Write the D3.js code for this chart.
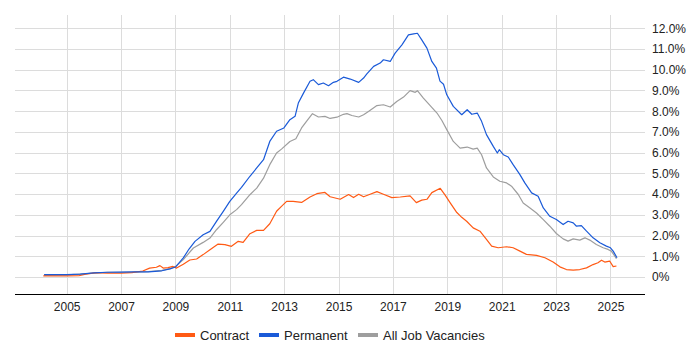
<!DOCTYPE html>
<html>
<head>
<meta charset="utf-8">
<script src="https://cdn.jsdelivr.net/npm/d3@7"></script>
<style>
body { margin: 0; background: #fff; }
text { font-family: "Liberation Sans", Arial, sans-serif; }
</style>
</head>
<body>
<div class="chart"></div>
<script>
// [year, percent] pairs
var contract = [[2004.14, 0.05], [2004.6, 0.05], [2005.0, 0.05], [2005.45, 0.06], [2005.7, 0.14],
    [2006.1, 0.21], [2006.5, 0.18], [2007.0, 0.18], [2007.4, 0.21], [2007.8, 0.29], [2008.05, 0.43],
    [2008.3, 0.47], [2008.43, 0.55], [2008.55, 0.43], [2008.73, 0.45], [2008.91, 0.51], [2009.04, 0.43],
    [2009.29, 0.62], [2009.53, 0.82], [2009.78, 0.87], [2010.02, 1.08], [2010.27, 1.32], [2010.57, 1.59],
    [2010.82, 1.56], [2011.06, 1.48], [2011.31, 1.72], [2011.49, 1.67], [2011.74, 2.09], [2011.99, 2.25],
    [2012.24, 2.25], [2012.47, 2.57], [2012.72, 3.17], [2012.9, 3.41], [2013.09, 3.65], [2013.33, 3.65],
    [2013.64, 3.6], [2013.95, 3.86], [2014.2, 4.02], [2014.5, 4.08], [2014.69, 3.87], [2015.06, 3.75],
    [2015.37, 3.98], [2015.55, 3.83], [2015.74, 3.99], [2015.92, 3.87], [2016.16, 3.99], [2016.41, 4.12],
    [2016.65, 3.99], [2016.96, 3.83], [2017.27, 3.86], [2017.63, 3.91], [2017.86, 3.59], [2018.06, 3.71],
    [2018.25, 3.75], [2018.43, 4.07], [2018.74, 4.28], [2018.92, 3.95], [2019.1, 3.59], [2019.35, 3.11],
    [2019.53, 2.88], [2019.71, 2.69], [2019.95, 2.37], [2020.2, 2.21], [2020.44, 1.81], [2020.63, 1.49],
    [2020.87, 1.41], [2021.18, 1.46], [2021.42, 1.41], [2021.67, 1.25], [2021.91, 1.09], [2022.28, 1.04],
    [2022.59, 0.93], [2022.89, 0.72], [2023.14, 0.49], [2023.38, 0.36], [2023.63, 0.33], [2023.87, 0.36],
    [2024.12, 0.44], [2024.36, 0.6], [2024.54, 0.69], [2024.67, 0.81], [2024.79, 0.72], [2024.97, 0.77],
    [2025.1, 0.5], [2025.22, 0.53]];

var permanent = [[2004.17, 0.11], [2004.6, 0.11], [2005.0, 0.11], [2005.5, 0.14], [2006.0, 0.2],
    [2006.5, 0.23], [2007.0, 0.24], [2007.5, 0.25], [2008.0, 0.25], [2008.5, 0.3], [2008.8, 0.39],
    [2009.0, 0.48], [2009.29, 0.92], [2009.5, 1.35], [2009.72, 1.72], [2010.02, 2.04], [2010.27, 2.2],
    [2010.51, 2.68], [2010.76, 3.17], [2011.0, 3.65], [2011.25, 4.05], [2011.43, 4.32], [2011.74, 4.86],
    [2011.99, 5.26], [2012.24, 5.66], [2012.47, 6.54], [2012.72, 7.03], [2012.99, 7.19], [2013.21, 7.59],
    [2013.4, 7.75], [2013.52, 8.39], [2013.71, 8.87], [2013.95, 9.44], [2014.07, 9.52], [2014.26, 9.28],
    [2014.44, 9.36], [2014.63, 9.23], [2014.81, 9.39], [2014.94, 9.44], [2015.18, 9.64], [2015.43, 9.55],
    [2015.74, 9.39], [2015.92, 9.6], [2016.04, 9.8], [2016.29, 10.16], [2016.53, 10.32], [2016.65, 10.48],
    [2016.9, 10.4], [2017.08, 10.8], [2017.33, 11.2], [2017.57, 11.68], [2017.76, 11.73], [2017.9, 11.76],
    [2018.06, 11.44], [2018.25, 11.04], [2018.43, 10.4], [2018.6, 10.08], [2018.73, 9.45], [2018.86, 9.3],
    [2018.98, 8.79], [2019.22, 8.23], [2019.53, 7.83], [2019.73, 8.07], [2019.9, 7.85], [2020.1, 7.91],
    [2020.26, 7.51], [2020.44, 6.87], [2020.69, 6.3], [2020.84, 5.98], [2020.91, 6.14], [2021.06, 5.9],
    [2021.24, 5.79], [2021.42, 5.42], [2021.67, 4.94], [2021.85, 4.54], [2022.1, 4.06], [2022.34, 3.9],
    [2022.53, 3.33], [2022.77, 2.93], [2023.01, 2.77], [2023.26, 2.53], [2023.44, 2.69], [2023.63, 2.61],
    [2023.75, 2.45], [2023.93, 2.48], [2024.12, 2.21], [2024.36, 1.89], [2024.61, 1.65], [2024.85, 1.49],
    [2025.0, 1.41], [2025.1, 1.25], [2025.24, 0.93]];

var allJobs = [[2004.17, 0.08], [2005.0, 0.1], [2005.5, 0.14], [2006.0, 0.19], [2006.5, 0.22],
    [2007.0, 0.23], [2007.5, 0.24], [2008.0, 0.26], [2008.5, 0.32], [2008.8, 0.4], [2009.0, 0.5],
    [2009.29, 0.84], [2009.66, 1.4], [2010.02, 1.67], [2010.27, 1.88], [2010.51, 2.28], [2010.76, 2.64],
    [2011.0, 3.0], [2011.25, 3.25], [2011.43, 3.49], [2011.74, 3.97], [2011.99, 4.29], [2012.24, 4.77],
    [2012.47, 5.42], [2012.72, 5.98], [2012.9, 6.17], [2013.21, 6.54], [2013.43, 6.67], [2013.64, 7.19],
    [2013.82, 7.51], [2014.04, 7.88], [2014.26, 7.72], [2014.5, 7.75], [2014.69, 7.65], [2014.94, 7.71],
    [2015.18, 7.85], [2015.31, 7.88], [2015.49, 7.79], [2015.74, 7.72], [2015.92, 7.83], [2016.1, 7.99],
    [2016.41, 8.27], [2016.65, 8.31], [2016.9, 8.2], [2017.14, 8.47], [2017.39, 8.68], [2017.63, 8.99],
    [2017.82, 8.91], [2017.9, 8.99], [2018.12, 8.63], [2018.37, 8.27], [2018.62, 7.91], [2018.8, 7.55],
    [2018.98, 7.11], [2019.22, 6.54], [2019.47, 6.22], [2019.73, 6.27], [2019.95, 6.17], [2020.1, 6.22],
    [2020.26, 5.9], [2020.44, 5.26], [2020.69, 4.83], [2020.93, 4.62], [2021.18, 4.54], [2021.36, 4.38],
    [2021.61, 3.98], [2021.79, 3.57], [2022.04, 3.33], [2022.28, 3.09], [2022.53, 2.77], [2022.77, 2.45],
    [2023.01, 2.1], [2023.26, 1.84], [2023.44, 1.73], [2023.63, 1.84], [2023.87, 1.78], [2024.06, 1.89],
    [2024.24, 1.78], [2024.48, 1.57], [2024.73, 1.41], [2024.91, 1.33], [2025.03, 1.25], [2025.16, 1.01],
    [2025.22, 0.88]];

var xTicks = [2005, 2007, 2009, 2011, 2013, 2015, 2017, 2019, 2021, 2023, 2025];
var yTicks = [0, 1, 2, 3, 4, 5, 6, 7, 8, 9, 10, 11, 12];

var seriesNames = ["Contract", "Permanent", "All Job Vacancies"];
var colorKey = {
    "Contract": "#ff5a14",
    "Permanent": "#1a5ad8",
    "All Job Vacancies": "#9e9e9e"
};

var svg = d3.select(".chart")
    .append("svg")
    .attr("width", 700)
    .attr("height", 350);

var x = d3.scaleLinear()
    .domain([2003.1, 2026.27])
    .range([15, 645]);

var y = d3.scaleLinear()
    .domain([-0.82, 12.64])
    .range([294, 15]);

// gridlines
svg.append("g")
    .selectAll("line")
    .data(yTicks)
    .enter().append("line")
    .attr("x1", 15)
    .attr("x2", 645)
    .attr("y1", function(d) { return Math.round(y(d)) + 0.5; })
    .attr("y2", function(d) { return Math.round(y(d)) + 0.5; })
    .attr("stroke", "#dcdcdc");

svg.append("g")
    .selectAll("line")
    .data(xTicks)
    .enter().append("line")
    .attr("x1", function(d) { return Math.round(x(d)) + 0.5; })
    .attr("x2", function(d) { return Math.round(x(d)) + 0.5; })
    .attr("y1", 15)
    .attr("y2", 294)
    .attr("stroke", "#dcdcdc");

// x axis
var xAxis = svg.append("g")
    .attr("transform", "translate(0,294.5)")
    .call(d3.axisBottom(x)
        .tickValues(xTicks)
        .tickFormat(d3.format("d"))
        .tickSize(0)
        .tickPadding(8));

xAxis.select(".domain").attr("stroke", "#000").attr("d", "M15,0H645");
xAxis.selectAll("text")
    .style("font-size", "12px")
    .attr("fill", "#222");

// y axis on right
var yAxis = svg.append("g")
    .attr("transform", "translate(645,0)")
    .call(d3.axisRight(y)
        .tickValues(yTicks)
        .tickFormat(function(d) { return d === 0 ? "0%" : d.toFixed(1) + "%"; })
        .tickSize(0)
        .tickPadding(7));

yAxis.select(".domain").remove();
yAxis.selectAll("text")
    .style("font-size", "12px")
    .attr("fill", "#222");

// lines
var line = d3.line()
    .x(function(d) { return x(d[0]); })
    .y(function(d) { return y(d[1]); });

var drawOrder = [
    ["All Job Vacancies", allJobs],
    ["Contract", contract],
    ["Permanent", permanent]
];

svg.selectAll(".series")
    .data(drawOrder)
    .enter().append("path")
    .attr("class", "series")
    .attr("d", function(d) { return line(d[1]); })
    .attr("fill", "none")
    .attr("stroke", function(d) { return colorKey[d[0]]; })
    .attr("stroke-width", 1.2)
    .attr("stroke-linejoin", "round");

// legend
var legendX = [175, 259, 358];

var legendRow = svg.selectAll(".legendRow")
    .data(seriesNames)
    .enter().append("g")
    .attr("class", "legendRow")
    .attr("transform", function(d, i) {
        return "translate(" + legendX[i] + ", 335)";
    });

legendRow.append("rect")
    .attr("x", 0)
    .attr("y", -2)
    .attr("width", 20)
    .attr("height", 4)
    .attr("fill", function(d) { return colorKey[d]; });

legendRow.append("text")
    .attr("x", 25)
    .attr("y", 4.5)
    .text(function(d) { return d; })
    .attr("fill", "#222")
    .style("font-size", "13px");
</script>
</body>
</html>
